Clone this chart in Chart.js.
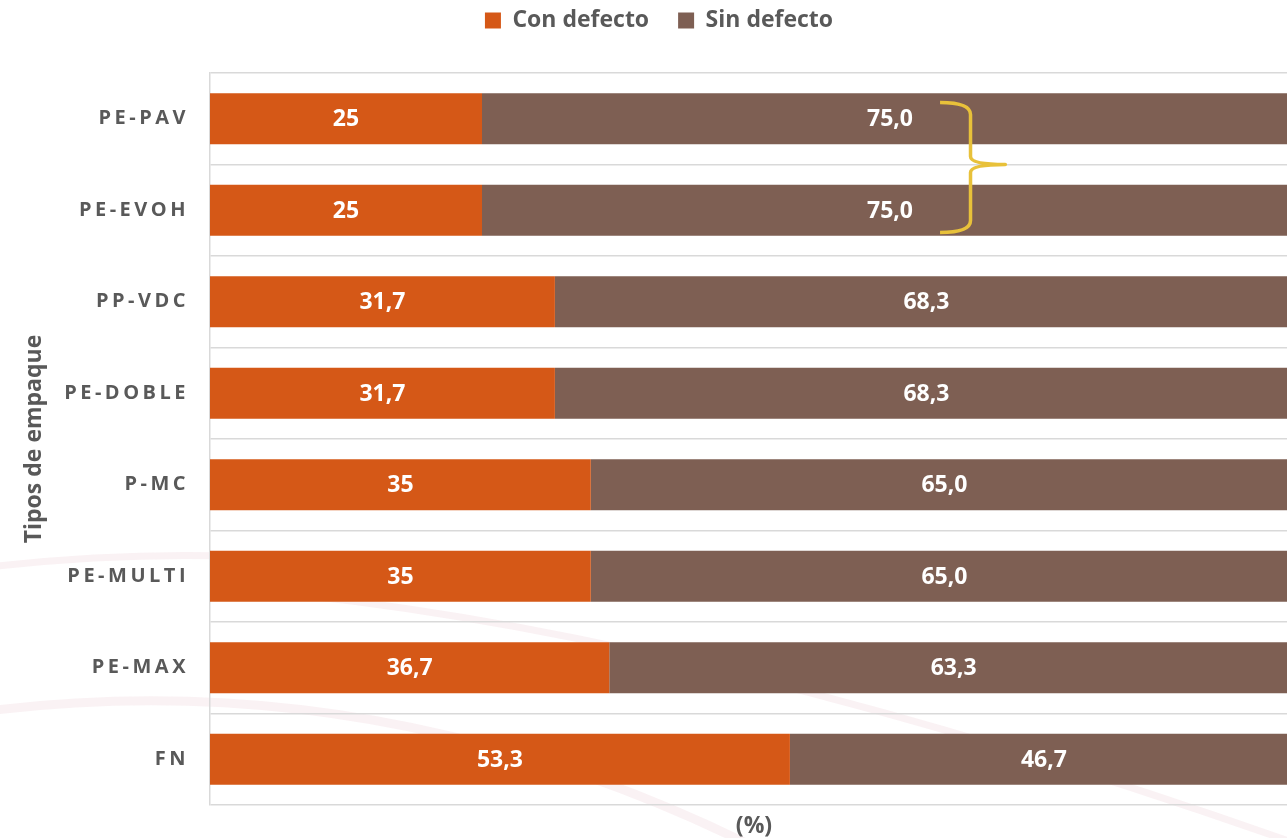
<!DOCTYPE html>
<html>
<head>
<meta charset="utf-8">
<script src="https://cdn.jsdelivr.net/npm/chart.js@4.4.1/dist/chart.umd.min.js"></script>
<style>
  html, body { margin: 0; padding: 0; background: #fff; overflow: hidden; }
  #wrap { position: relative; width: 1328px; height: 858px; margin-top: -20px; }
</style>
</head>
<body>
<div id="wrap"><canvas id="empaques" width="1328" height="858"></canvas></div>
<script>
const tipos = ["PE-PAV", "PE-EVOH", "PP-VDC", "PE-DOBLE", "P-MC", "PE-MULTI", "PE-MAX", "FN"];
const conDefecto = [25, 25, 31.7, 31.7, 35, 35, 36.7, 53.3];
const sinDefecto = [75, 75, 68.3, 68.3, 65, 65, 63.3, 46.7];

const gris = "#595959";
Chart.defaults.font.family = "'Open Sans', sans-serif";

// faint pink swooshes in the background
const fondo = {
  id: "fondo",
  beforeDraw(chart) {
    const ctx = chart.ctx;
    ctx.save();
    ctx.translate(0, 20);
    ctx.strokeStyle = "rgba(170,40,60,0.06)";
    ctx.lineCap = "round";
    ctx.lineWidth = 9;
    ctx.beginPath();
    ctx.moveTo(-20, 712);
    ctx.quadraticCurveTo(380, 660, 760, 850);
    ctx.stroke();
    ctx.lineWidth = 7;
    ctx.beginPath();
    ctx.moveTo(300, 595);
    ctx.quadraticCurveTo(720, 640, 1300, 845);
    ctx.stroke();
    ctx.beginPath();
    ctx.moveTo(-20, 568);
    ctx.quadraticCurveTo(150, 548, 300, 560);
    ctx.stroke();
    ctx.restore();
  }
};

// tick labels of the category axis are letter spaced
const espaciado = {
  id: "espaciado",
  afterLayout(chart) {
    const s = chart.scales.y;
    if (s._espaciado) return;
    const orig = s.drawLabels.bind(s);
    s.drawLabels = function (area) {
      this.ctx.save();
      this.ctx.letterSpacing = "3.5px";
      orig(area);
      this.ctx.restore();
    };
    s._espaciado = true;
  }
};

const etiquetas = {
  id: "etiquetas",
  afterDatasetsDraw(chart) {
    const ctx = chart.ctx;
    ctx.save();
    ctx.font = "bold 23px 'Open Sans'";
    ctx.fillStyle = "#ffffff";
    ctx.textAlign = "center";
    ctx.textBaseline = "middle";
    chart.data.datasets.forEach((ds, i) => {
      chart.getDatasetMeta(i).data.forEach((bar, j) => {
        const v = ds.data[j];
        const txt = i === 0 ? String(v).replace(".", ",") : v.toFixed(1).replace(".", ",");
        const c = bar.getCenterPoint();
        ctx.fillText(txt, c.x, c.y + 1);
      });
    });
    ctx.restore();
  }
};

// yellow brace grouping PE-PAV and PE-EVOH
const llave = {
  id: "llave",
  afterDatasetsDraw(chart) {
    const x = chart.scales.x, y = chart.scales.y;
    const ctx = chart.ctx;
    const y0 = y.getPixelForValue(0), y1 = y.getPixelForValue(1);
    const mid = (y0 + y1) / 2;
    const top = mid - 62, bot = mid + 68;
    const xl = x.getPixelForValue(67.1);
    const xv = x.getPixelForValue(69.9);
    const xt = x.getPixelForValue(73.1);
    ctx.save();
    ctx.strokeStyle = "#E8C13A";
    ctx.lineWidth = 3.5;
    ctx.lineJoin = "round";
    ctx.beginPath();
    ctx.moveTo(xl, top);
    ctx.quadraticCurveTo(xv, top, xv, top + 12);
    ctx.lineTo(xv, mid - 8);
    ctx.quadraticCurveTo(xv, mid, xt, mid);
    ctx.quadraticCurveTo(xv, mid, xv, mid + 8);
    ctx.lineTo(xv, bot - 12);
    ctx.quadraticCurveTo(xv, bot, xl, bot);
    ctx.stroke();
    ctx.restore();
  }
};

new Chart(document.getElementById("empaques"), {
  type: "bar",
  data: {
    labels: tipos,
    datasets: [
      {
        label: "Con defecto",
        data: conDefecto,
        backgroundColor: "#D55817",
        barPercentage: 0.56,
        categoryPercentage: 1.0,
      },
      {
        label: "Sin defecto",
        data: sinDefecto,
        backgroundColor: "#7E5F53",
        barPercentage: 0.56,
        categoryPercentage: 1.0,
      },
    ],
  },
  options: {
    indexAxis: "y",
    responsive: false,
    animation: false,
    layout: { padding: { left: 20, right: 30, top: 0, bottom: 0 } },
    plugins: {
      legend: {
        position: "top",
        labels: {
          color: gris,
          boxWidth: 16,
          boxHeight: 16,
          padding: 29,
          font: { size: 23, weight: "bold" },
        },
      },
      // empty spacer between legend and plot
      title: {
        display: true,
        text: " ",
        weight: 500,
        padding: 0,
        font: { size: 20, lineHeight: 1.55 },
      },
      tooltip: { enabled: false },
    },
    scales: {
      x: {
        stacked: true,
        min: 0,
        max: 100,
        grid: { display: false },
        border: { display: false },
        ticks: { display: false },
        title: {
          display: true,
          text: "(%)",
          color: gris,
          padding: 0,
          font: { size: 23, weight: "bold", lineHeight: 1 },
        },
        afterFit(scale) { scale.height = 33; },
      },
      y: {
        stacked: true,
        grid: { color: "#D9D9D9", lineWidth: 1.5, drawTicks: false },
        border: { color: "#D9D9D9", width: 1.5 },
        ticks: {
          color: gris,
          padding: 21,
          font: { size: 20, weight: "bold" },
        },
        title: {
          display: true,
          text: "Tipos de empaque",
          color: gris,
          padding: { top: 1, bottom: 0 },
          font: { size: 23, weight: "bold" },
        },
        afterFit(scale) { scale.width = 190; },
      },
    },
  },
  plugins: [fondo, espaciado, etiquetas, llave],
});
</script>
</body>
</html>
